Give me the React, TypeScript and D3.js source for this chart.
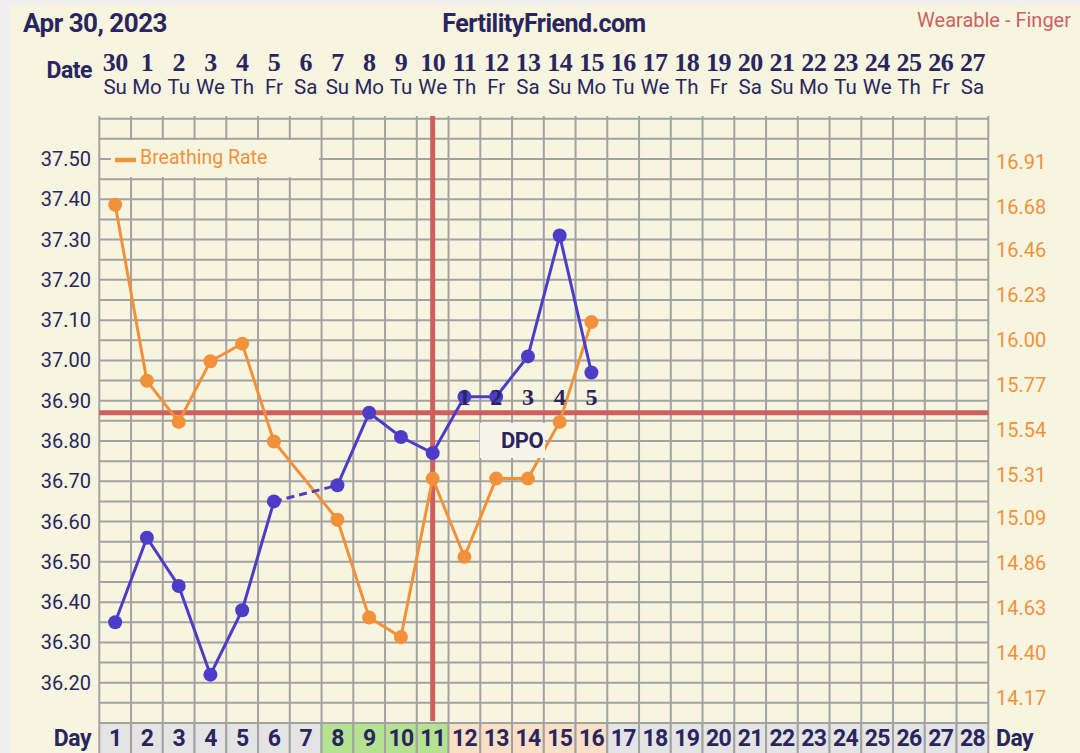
import React from "react";
import * as d3 from "d3";

const dateLabels = ["30","1","2","3","4","5","6","7","8","9","10","11","12","13","14","15","16","17","18","19","20","21","22","23","24","25","26","27"];
const weekdays = ["Su","Mo","Tu","We","Th","Fr","Sa","Su","Mo","Tu","We","Th","Fr","Sa","Su","Mo","Tu","We","Th","Fr","Sa","Su","Mo","Tu","We","Th","Fr","Sa"];
const cycleDays = [1,2,3,4,5,6,7,8,9,10,11,12,13,14,15,16,17,18,19,20,21,22,23,24,25,26,27,28];
// phase: 0 = normal, 1 = fertile (green), 2 = luteal/DPO (peach)
const dayPhase = [0,0,0,0,0,0,0,1,1,1,1,2,2,2,2,2,0,0,0,0,0,0,0,0,0,0,0,0];
const temperatures: (number | null)[] = [36.35,36.56,36.44,36.22,36.38,36.65,null,36.69,36.87,36.81,36.77,36.91,36.91,37.01,37.31,36.97];
const breathingRate: (number | null)[] = [16.69,15.79,15.58,15.89,15.98,15.48,null,15.08,14.58,14.48,15.29,14.89,15.29,15.29,15.58,16.09];
const leftTicks = [37.5,37.4,37.3,37.2,37.1,37.0,36.9,36.8,36.7,36.6,36.5,36.4,36.3,36.2];
const rightTicks = [16.91,16.68,16.46,16.23,16.0,15.77,15.54,15.31,15.09,14.86,14.63,14.4,14.17];
const dpoDays = [12,13,14,15,16];
const dpoLabels = ["1","2","3","4","5"];
const coverline = 36.87;
const ovulationDay = 11;

const NAVY = "#29255f";
const BLUE = "#4b3dc8";
const ORANGE = "#f2913a";
const RED = "#cf5f5f";
const GRID = "#a2a2a2";
const CREAM = "#f7f5e0";
const SANS = "Roboto, 'Noto Sans', sans-serif";
const SERIF = "'Liberation Serif', 'DejaVu Serif', serif";

export default function App() {
  const x = d3.scaleLinear().domain([0, 28]).range([99.3, 988.3]);
  const cx = (i: number) => x(i + 0.5);
  const yT = d3.scaleLinear().domain([36.1, 37.6]).range([723, 118.7]);
  const yB = d3.scaleLinear().domain([14.17, 16.91]).range([697.7, 161.7]);
  const bottom = 723;

  const hLines = d3.range(0, 31).map((i) => 36.1 + i * 0.05);
  const vLines = d3.range(0, 29);

  const tempPts = temperatures.map((v, i) => ({ i, v }));
  const lineT = d3.line<{ i: number; v: number | null }>()
    .defined((d) => d.v != null)
    .x((d) => cx(d.i))
    .y((d) => yT(d.v as number));
  const bridges: [number, number][] = [];
  for (let i = 0; i < temperatures.length; i++) {
    if (temperatures[i] == null && i > 0 && temperatures[i - 1] != null) {
      let j = i;
      while (j < temperatures.length && temperatures[j] == null) j++;
      if (j < temperatures.length) bridges.push([i - 1, j]);
    }
  }
  const brPts = breathingRate.map((v, i) => ({ i, v })).filter((d) => d.v != null);
  const lineB = d3.line<{ i: number; v: number | null }>()
    .x((d) => cx(d.i))
    .y((d) => yB(d.v as number));

  const phaseFill = (p: number) => (p === 1 ? "#b4e290" : p === 2 ? "#fbe0c5" : "#e4e4e4");

  return (
    <svg width={1080} height={753} style={{ position: "absolute", left: 0, top: 0 }}>
      <rect x={0} y={0} width={1080} height={753} fill="#efefef" />
      <rect x={10} y={5} width={1070} height={760} fill={CREAM} />

      <text x={23} y={32} fontFamily={SANS} fontWeight={700} fontSize={26} fill={NAVY} letterSpacing={-0.5}>Apr 30, 2023</text>
      <text x={544} y={32} textAnchor="middle" fontFamily={SANS} fontWeight={700} fontSize={25} fill={NAVY} letterSpacing={-0.5}>FertilityFriend.com</text>
      <text x={1071} y={27} textAnchor="end" fontFamily={SANS} fontSize={20} fill={RED}>Wearable - Finger</text>

      <text x={92} y={78} textAnchor="end" fontFamily={SANS} fontWeight={700} fontSize={23} fill={NAVY} letterSpacing={-0.5}>Date</text>
      {dateLabels.map((d, i) => (
        <text key={"d" + i} x={cx(i)} y={71} textAnchor="middle" fontFamily={SERIF} fontWeight={700} fontSize={26} fill={NAVY} letterSpacing={-0.5}>{d}</text>
      ))}
      {weekdays.map((d, i) => (
        <text key={"w" + i} x={cx(i)} y={94} textAnchor="middle" fontFamily={SANS} fontSize={20.5} fill={NAVY}>{d}</text>
      ))}

      {cycleDays.map((d, i) => (
        <g key={"c" + i}>
          <rect x={x(i)} y={bottom} width={x(i + 1) - x(i)} height={40} fill={phaseFill(dayPhase[i])} stroke={GRID} strokeWidth={2} />
          <text x={cx(i)} y={746} textAnchor="middle" fontFamily={SANS} fontWeight={700} fontSize={23} fill={NAVY} letterSpacing={-0.8}>{d}</text>
        </g>
      ))}
      <text x={91} y={746} textAnchor="end" fontFamily={SANS} fontWeight={700} fontSize={23} fill={NAVY} letterSpacing={-0.5}>Day</text>
      <text x={996} y={746} fontFamily={SANS} fontWeight={700} fontSize={23} fill={NAVY} letterSpacing={-0.5}>Day</text>

      {hLines.map((v, i) => (
        <line key={"h" + i} x1={x(0)} x2={x(28)} y1={yT(v)} y2={yT(v)} stroke={GRID} strokeWidth={2} />
      ))}
      {vLines.map((i) => (
        <line key={"v" + i} x1={x(i)} x2={x(i)} y1={116} y2={bottom} stroke={GRID} strokeWidth={2} />
      ))}

      {leftTicks.map((t) => (
        <text key={"l" + t} x={91} y={yT(t)} dy="0.35em" textAnchor="end" fontFamily={SANS} fontSize={20} fill={NAVY}>{t.toFixed(2)}</text>
      ))}
      {rightTicks.map((t) => (
        <text key={"r" + t} x={996} y={yB(t)} dy="0.35em" fontFamily={SANS} fontSize={20} fill={ORANGE}>{t.toFixed(2)}</text>
      ))}

      <rect x={111} y={140} width={208} height={37} fill={CREAM} />
      <line x1={115} x2={136} y1={160} y2={160} stroke={ORANGE} strokeWidth={4.5} />
      <text x={140} y={157} dy="0.35em" fontFamily={SANS} fontSize={19.5} fill={ORANGE}>Breathing Rate</text>

      <line x1={cx(ovulationDay - 1)} x2={cx(ovulationDay - 1)} y1={116} y2={bottom - 2} stroke={RED} strokeWidth={5} />
      <line x1={x(0)} x2={x(28)} y1={yT(coverline)} y2={yT(coverline)} stroke={RED} strokeWidth={5} />

      <path d={lineB(brPts) || ""} fill="none" stroke={ORANGE} strokeWidth={3} />
      {brPts.map((d) => (
        <circle key={"b" + d.i} cx={cx(d.i)} cy={yB(d.v as number)} r={7} fill={ORANGE} />
      ))}

      <path d={lineT(tempPts) || ""} fill="none" stroke={BLUE} strokeWidth={3} />
      {bridges.map(([a, b], k) => (
        <line key={"br" + k} x1={cx(a)} y1={yT(temperatures[a] as number)} x2={cx(b)} y2={yT(temperatures[b] as number)} stroke={BLUE} strokeWidth={3} strokeDasharray="8,5" />
      ))}
      {tempPts.filter((d) => d.v != null).map((d) => (
        <circle key={"t" + d.i} cx={cx(d.i)} cy={yT(d.v as number)} r={7} fill={BLUE} />
      ))}

      <rect x={480} y={423} width={65} height={35} fill="#f7f5e8" />
      <text x={522} y={440} dy="0.35em" textAnchor="middle" fontFamily={SANS} fontWeight={700} fontSize={22} fill={NAVY} letterSpacing={-0.5}>DPO</text>
      {dpoDays.map((d, k) => (
        <text key={"p" + d} x={cx(d - 1)} y={397} dy="0.35em" textAnchor="middle" fontFamily={SERIF} fontWeight={700} fontSize={24} fill={NAVY}>{dpoLabels[k]}</text>
      ))}
    </svg>
  );
}
